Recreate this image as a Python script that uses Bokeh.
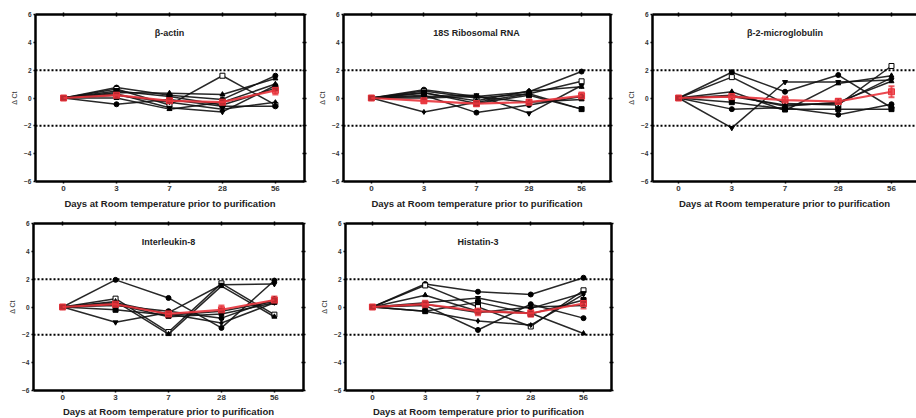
from bokeh.plotting import figure
from bokeh.layouts import column, row
from bokeh.models import (Range1d, FixedTicker, LinearAxis, Span, ColumnDataSource,
                          Whisker, TeeHead)
from bokeh.core.properties import value
from bokeh.embed import file_html
from bokeh.resources import INLINE

days = ["0", "3", "7", "28", "56"]
y_ticks = [-6, -4, -2, 0, 2, 4, 6]
x_label = "Days at Room temperature prior to purification"
y_label = "\u0394 Ct"

titles = ["\u03b2-actin", "18S Ribosomal RNA", "\u03b2-2-microglobulin", "Interleukin-8", "Histatin-3"]

actin_series = [
    [0, 0.75, 0.2, -0.1, 1.6],
    [0, 0.65, -0.5, 1.6, -0.5],
    [0, 0.4, 0.35, 0.25, 1.4],
    [0, 0.3, -0.7, -1.0, 0.9],
    [0, 0.2, -0.3, -0.8, -0.3],
    [0, -0.45, -0.1, -0.6, -0.6],
    [0, 0.5, 0.1, -0.5, 0.7],
    [0, 0.0, -0.8, -0.3, 1.0],
]
actin_mean = [0, 0.2, -0.2, -0.3, 0.55]
actin_err = [0, 0.15, 0.15, 0.2, 0.3]

rrna_series = [
    [0, 0.6, 0.1, 0.45, 1.9],
    [0, 0.5, 0.0, 0.3, 1.2],
    [0, 0.35, -0.2, 0.5, 0.8],
    [0, 0.1, 0.2, -1.1, 0.9],
    [0, -1.0, -0.3, 0.3, -0.8],
    [0, 0.2, -1.05, -0.5, 0.1],
    [0, 0.4, -0.4, 0.2, -0.8],
    [0, 0.0, 0.1, -0.3, -0.1],
]
rrna_mean = [0, -0.2, -0.4, -0.3, 0.15]
rrna_err = [0, 0.15, 0.2, 0.15, 0.25]

b2m_series = [
    [0, 1.85, 0.45, 1.65, -0.7],
    [0, 1.5, -0.4, -0.5, 2.3],
    [0, 0.45, -0.9, 1.05, 1.6],
    [0, -2.15, 1.15, 1.15, 1.3],
    [0, 0.1, -0.5, -0.4, 1.45],
    [0, -0.8, -0.7, -1.2, -0.45],
    [0, -0.3, -0.8, -0.8, -0.8],
    [0, 0.2, -0.6, -0.3, 1.2],
]
b2m_mean = [0, 0.1, -0.15, -0.25, 0.45]
b2m_err = [0, 0.25, 0.25, 0.2, 0.4]

il8_series = [
    [0, 1.95, 0.65, -1.5, 1.9],
    [0, 0.6, -1.8, 1.7, -0.55],
    [0, 0.4, -1.95, 1.5, -0.7],
    [0, -1.1, -0.4, 1.6, 1.65],
    [0, 0.3, -0.5, -1.15, 0.3],
    [0, 0.1, -0.3, -0.8, 0.55],
    [0, -0.2, -0.6, -0.3, 0.4],
    [0, 0.2, -0.7, -0.5, 0.3],
]
il8_mean = [0, 0.2, -0.5, -0.2, 0.5]
il8_err = [0, 0.2, 0.25, 0.3, 0.25]

hist_series = [
    [0, 1.65, 1.1, 0.9, 2.1],
    [0, 1.55, 0.0, -1.4, 1.2],
    [0, 0.85, -0.3, -0.45, -1.9],
    [0, 0.3, 0.65, -0.1, 1.0],
    [0, -0.3, -1.0, -1.3, 0.9],
    [0, 0.1, -1.65, 0.2, -0.8],
    [0, -0.3, 0.35, -0.5, 0.5],
    [0, 0.2, -0.4, 0.0, 0.1],
]
hist_mean = [0, 0.2, -0.3, -0.45, 0.25]
hist_err = [0, 0.25, 0.3, 0.25, 0.35]

markers = ["circle", "square", "triangle", "inverted_triangle", "diamond", "circle", "square", "triangle"]
fills = ["black", "white", "black", "black", "black", "black", "black", "black"]

RED = "#e8343c"
FONT = "Liberation Sans"


def make_panel(title, series, mean, err, frame_w, frame_h, bl, br, bt, bb, xr, xl_standoff,
               right_axis=True):
    p = figure(frame_width=frame_w, frame_height=frame_h,
               min_border_left=bl, min_border_right=br, min_border_top=bt, min_border_bottom=bb,
               x_range=Range1d(*xr), y_range=Range1d(-6, 6),
               output_backend="svg", toolbar_location=None, tools="")
    p.outline_line_color = None
    p.grid.visible = False
    p.background_fill_color = "white"
    p.border_fill_color = "white"

    x = list(range(len(days)))

    for ax in (p.xaxis[0], p.yaxis[0]):
        ax.axis_line_width = 2.5
        ax.axis_line_color = "black"
        ax.major_tick_line_width = 1.5
        ax.major_tick_out = 2
        ax.major_tick_in = 0
        ax.minor_tick_out = 0
        ax.minor_tick_in = 0
        ax.major_label_text_font = FONT
        ax.major_label_text_font_style = "bold"
        ax.major_label_text_color = "#333333"
        ax.major_label_standoff = 2
        ax.axis_label_text_font = FONT

    p.xaxis.ticker = FixedTicker(ticks=x)
    p.xaxis.major_label_overrides = {i: d for i, d in enumerate(days)}
    p.xaxis.major_label_text_font_size = "8px"
    p.xaxis.axis_label = x_label
    p.xaxis.axis_label_text_font_size = "9.5px"
    p.xaxis.axis_label_text_font_style = "bold"
    p.xaxis.axis_label_text_color = "#222222"
    p.xaxis.axis_label_standoff = xl_standoff

    p.yaxis.ticker = FixedTicker(ticks=y_ticks)
    p.yaxis.major_label_text_font_size = "6.5px"
    p.yaxis.axis_label = y_label
    p.yaxis.axis_label_text_font_size = "7px"
    p.yaxis.axis_label_text_font_style = "normal"
    p.yaxis.axis_label_text_color = "#333333"
    p.yaxis.axis_label_standoff = 3

    top = LinearAxis(ticker=FixedTicker(ticks=x), axis_line_width=2.5, major_tick_line_width=1.5,
                     major_tick_in=2, major_tick_out=2, minor_tick_in=0, minor_tick_out=0,
                     major_label_text_font_size="1px", major_label_text_color=None,
                     major_label_standoff=0)
    p.add_layout(top, "above")
    if right_axis:
        rt = LinearAxis(ticker=FixedTicker(ticks=y_ticks), axis_line_width=2.5, major_tick_line_width=1.5,
                        major_tick_in=2, major_tick_out=2, minor_tick_in=0, minor_tick_out=0,
                        major_label_text_font_size="1px", major_label_text_color=None,
                        major_label_standoff=0)
        p.add_layout(rt, "right")

    for yv in (2, -2):
        p.add_layout(Span(location=yv, dimension="width", line_color="black",
                          line_width=2, line_dash="2 2"))

    for i, s in enumerate(series):
        p.line(x, s, line_color="#111111", line_width=1.5, line_alpha=0.9)
        p.scatter(x, s, marker=markers[i], size=5, line_color="black",
                  fill_color=fills[i], line_width=1)

    upper = [m + e for m, e in zip(mean, err)]
    lower = [m - e for m, e in zip(mean, err)]
    src = ColumnDataSource(dict(x=x, mean=mean, upper=upper, lower=lower))
    p.line("x", "mean", source=src, line_color=RED, line_width=2.2, line_alpha=0.9)
    p.add_layout(Whisker(source=src, base="x", upper="upper", lower="lower",
                         line_color=RED, line_width=2, line_alpha=0.8,
                         upper_head=TeeHead(size=6, line_color=RED, line_width=2, line_alpha=0.8),
                         lower_head=TeeHead(size=6, line_color=RED, line_width=2, line_alpha=0.8)))
    p.scatter("x", "mean", source=src, marker="square", size=6, fill_color=RED,
              line_color=RED, fill_alpha=0.8)

    p.text(x=[2], y=[4.7], text=[title], text_font=value(FONT), text_font_style="bold",
           text_font_size="9px", text_align="center", text_baseline="middle",
           text_color="#222222")
    return p


p1 = make_panel(titles[0], actin_series, actin_mean, actin_err, 269, 167, 35, 8, 14, 34,
                (-0.53, 4.55), 4)
p2 = make_panel(titles[1], rrna_series, rrna_mean, rrna_err, 267, 167, 31, 8, 14, 34,
                (-0.53, 4.55), 4)
p3 = make_panel(titles[2], b2m_series, b2m_mean, b2m_err, 264, 167, 34, 0, 14, 34,
                (-0.49, 4.47), 4, right_axis=False)
p4 = make_panel(titles[3], il8_series, il8_mean, il8_err, 270, 167, 33, 8, 8, 28,
                (-0.55, 4.55), 3)
p5 = make_panel(titles[4], hist_series, hist_mean, hist_err, 266, 167, 34, 8, 8, 28,
                (-0.51, 4.53), 3)

layout = column(row(p1, p2, p3), row(p4, p5))

open("out.html", "w").write(file_html(layout, INLINE))
